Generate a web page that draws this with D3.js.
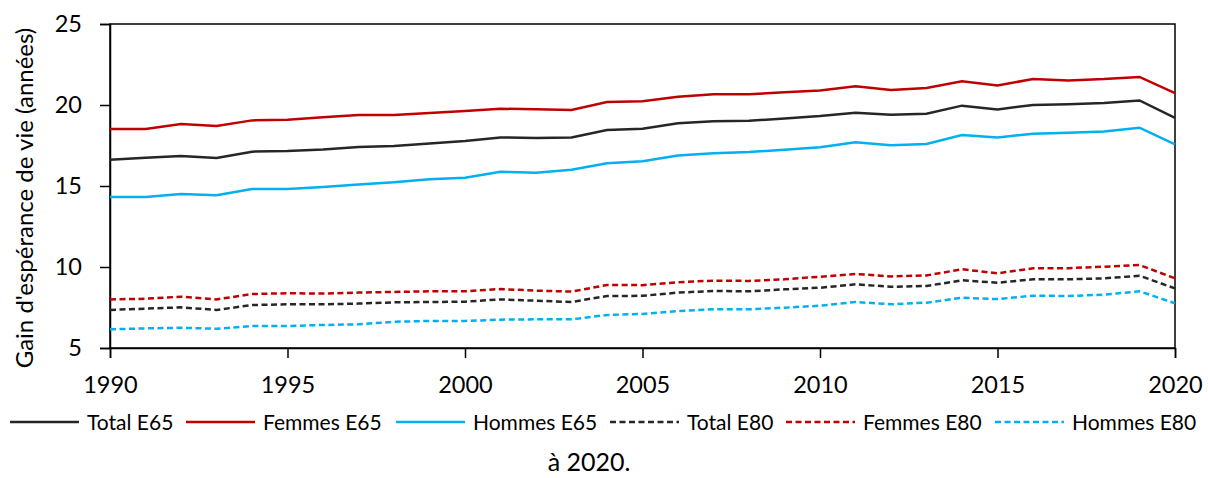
<!DOCTYPE html>
<html>
<head>
<meta charset="utf-8">
<script src="https://cdn.jsdelivr.net/npm/d3@7"></script>
<style>
body { margin: 0; background: #fff; }
svg text { font-family: Lato, "Open Sans", sans-serif; fill: #000; }
</style>
</head>
<body>
<div id="chart"></div>
<script>
// years 1990..2020
var years = d3.range(1990, 2021);

var totalE65 = [16.62, 16.75, 16.85, 16.73, 17.12, 17.16, 17.26, 17.41, 17.47, 17.63, 17.78,
                18.00, 17.96, 18.00, 18.46, 18.54, 18.87, 19.00, 19.03, 19.17, 19.32,
                19.52, 19.40, 19.46, 19.96, 19.73, 20.00, 20.04, 20.12, 20.28, 19.21];
var femmesE65 = [18.52, 18.52, 18.83, 18.70, 19.05, 19.09, 19.24, 19.38, 19.38, 19.51, 19.63,
                 19.77, 19.73, 19.69, 20.19, 20.23, 20.51, 20.66, 20.66, 20.78, 20.90,
                 21.15, 20.93, 21.05, 21.47, 21.21, 21.60, 21.52, 21.60, 21.73, 20.73];
var hommesE65 = [14.32, 14.32, 14.51, 14.43, 14.82, 14.82, 14.94, 15.10, 15.23, 15.41, 15.51,
                 15.88, 15.82, 16.00, 16.40, 16.53, 16.88, 17.02, 17.10, 17.24, 17.39,
                 17.70, 17.51, 17.59, 18.15, 18.00, 18.23, 18.29, 18.37, 18.60, 17.57];
var totalE80 = [7.35, 7.43, 7.51, 7.35, 7.65, 7.70, 7.70, 7.74, 7.82, 7.84, 7.86,
                8.00, 7.92, 7.84, 8.21, 8.22, 8.42, 8.52, 8.50, 8.62, 8.72,
                8.93, 8.78, 8.83, 9.18, 9.03, 9.24, 9.24, 9.30, 9.46, 8.68];
var femmesE80 = [8.00, 8.04, 8.17, 8.00, 8.33, 8.38, 8.36, 8.42, 8.46, 8.50, 8.50,
                 8.64, 8.54, 8.48, 8.89, 8.88, 9.06, 9.16, 9.14, 9.24, 9.40,
                 9.57, 9.42, 9.48, 9.86, 9.61, 9.92, 9.93, 10.02, 10.12, 9.30];
var hommesE80 = [6.15, 6.21, 6.25, 6.19, 6.36, 6.36, 6.42, 6.46, 6.62, 6.67, 6.67,
                 6.75, 6.77, 6.77, 7.04, 7.10, 7.28, 7.39, 7.39, 7.49, 7.61,
                 7.84, 7.70, 7.80, 8.10, 8.02, 8.23, 8.21, 8.29, 8.50, 7.76];

var yTicks = [5, 10, 15, 20, 25];
var xTicks = [1990, 1995, 2000, 2005, 2010, 2015, 2020];

var series = [
  {name: "Total E65", values: totalE65, color: "#262626", dash: null},
  {name: "Femmes E65", values: femmesE65, color: "#C00000", dash: null},
  {name: "Hommes E65", values: hommesE65, color: "#00B0F0", dash: null},
  {name: "Total E80", values: totalE80, color: "#262626", dash: "6,3.5"},
  {name: "Femmes E80", values: femmesE80, color: "#C00000", dash: "6,3.5"},
  {name: "Hommes E80", values: hommesE80, color: "#00B0F0", dash: "6,3.5"}
];

var width = 1208, height = 478;
var margin = {left: 110, right: 33, top: 24, bottom: 130};

var svg = d3.select("#chart").append("svg")
    .attr("width", width).attr("height", height);

var x = d3.scaleLinear().domain([1990, 2020]).range([margin.left, width - margin.right]);
var y = d3.scaleLinear().domain([5, 25]).range([height - margin.bottom, margin.top]);

// plot border
svg.append("rect")
  .attr("x", x(1990)).attr("y", y(25))
  .attr("width", x(2020) - x(1990)).attr("height", y(5) - y(25))
  .attr("fill", "none").attr("stroke", "#000").attr("stroke-width", 1.5);

var yAxis = svg.append("g")
  .attr("transform", "translate(" + x(1990) + ",0)")
  .call(d3.axisLeft(y).tickValues(yTicks).tickSize(10).tickPadding(18).tickFormat(d3.format("d")));
yAxis.select(".domain").attr("stroke", "#000").attr("stroke-width", 1.5);
yAxis.selectAll(".tick line").attr("stroke", "#000").attr("stroke-width", 1.5);
yAxis.selectAll("text").style("font-size", "23.5px").style("font-family", "Lato");

var xAxis = svg.append("g")
  .attr("transform", "translate(0," + y(5) + ")")
  .call(d3.axisBottom(x).tickValues(xTicks).tickSize(10).tickPadding(18).tickFormat(d3.format("d")));
xAxis.select(".domain").attr("stroke", "#000").attr("stroke-width", 1.5);
xAxis.selectAll(".tick line").attr("stroke", "#000").attr("stroke-width", 1.5);
xAxis.selectAll("text").style("font-size", "23.5px").style("font-family", "Lato");

svg.append("text")
  .attr("transform", "translate(33," + ((y(5) + y(25)) / 2 + 12) + ") rotate(-90)")
  .attr("text-anchor", "middle")
  .style("font-size", "24px")
  .text("Gain d'espérance de vie (années)");

var line = d3.line()
  .x(function(d, i) { return x(years[i]); })
  .y(function(d) { return y(d); });

svg.append("g").selectAll("path").data(series).enter().append("path")
  .attr("d", function(d) { return line(d.values); })
  .attr("fill", "none")
  .attr("stroke", function(d) { return d.color; })
  .attr("stroke-width", 2.5)
  .attr("stroke-dasharray", function(d) { return d.dash; });

// legend
var legX = [10, 186, 396, 610, 786, 995];
var legY = 422;
var leg = svg.append("g").selectAll("g").data(series).enter().append("g")
  .attr("transform", function(d, i) { return "translate(" + legX[i] + "," + legY + ")"; });
leg.append("line")
  .attr("x1", 0).attr("x2", 69).attr("y1", 0).attr("y2", 0)
  .attr("stroke", function(d) { return d.color; })
  .attr("stroke-width", 2.5)
  .attr("stroke-dasharray", function(d) { return d.dash; });
leg.append("text")
  .attr("x", 77).attr("y", 7.5)
  .style("font-size", "21px")
  .text(function(d) { return d.name; });

svg.append("text")
  .attr("x", 589).attr("y", 471)
  .attr("text-anchor", "middle")
  .style("font-size", "25px")
  .text("à 2020.");
</script>
</body>
</html>
